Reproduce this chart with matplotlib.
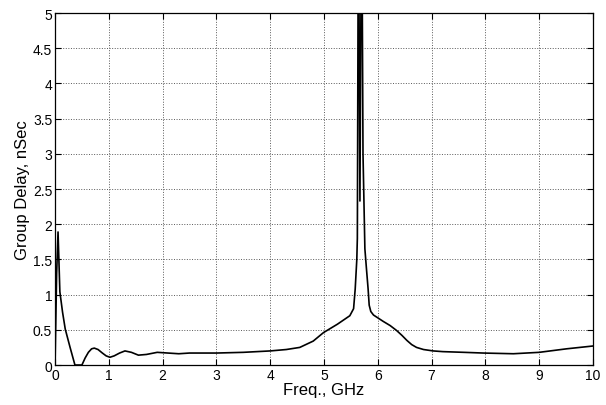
import matplotlib.pyplot as plt

plt.rcParams['font.family'] = ['Liberation Sans', 'DejaVu Sans']

# 読み取った曲線の点 (GHz, nSec)
freq = [0.0, 0.03, 0.056, 0.09, 0.14, 0.19, 0.28, 0.37, 0.5, 0.56, 0.62, 0.68, 0.73, 0.8, 0.88,
        0.95, 1.02, 1.1, 1.2, 1.3, 1.42, 1.55, 1.7, 1.9, 2.1, 2.3, 2.5, 2.7, 3.0, 3.5, 4.0,
        4.3, 4.55, 4.8, 4.99, 5.25, 5.48, 5.55, 5.58, 5.61, 5.62, 5.625, 5.64, 5.668, 5.70,
        5.725, 5.76, 5.79, 5.82, 5.84, 5.87, 5.92, 5.98, 6.1, 6.23, 6.35, 6.45, 6.54, 6.63,
        6.72, 6.85, 7.03, 7.21, 7.6, 7.96, 8.52, 9.0, 9.51, 10.0]
delay = [0.0, 1.3, 1.89, 1.04, 0.75, 0.51, 0.25, 0.0, 0.0, 0.1, 0.18, 0.23, 0.24, 0.22, 0.17,
         0.13, 0.11, 0.13, 0.17, 0.2, 0.18, 0.14, 0.15, 0.18, 0.17, 0.16, 0.17, 0.17, 0.17, 0.18, 0.2,
         0.22, 0.25, 0.34, 0.46, 0.58, 0.7, 0.8, 1.08, 1.5, 1.8, 3.0, 7.0, 2.33, 7.0,
         3.0, 1.65, 1.36, 1.08, 0.85, 0.76, 0.71, 0.68, 0.62, 0.56, 0.49, 0.42, 0.35, 0.29,
         0.25, 0.22, 0.2, 0.19, 0.18, 0.17, 0.16, 0.18, 0.23, 0.27]

x_ticks = [0, 1, 2, 3, 4, 5, 6, 7, 8, 9, 10]
y_ticks = [0, 0.5, 1, 1.5, 2, 2.5, 3, 3.5, 4, 4.5, 5]
y_labels = ['0', '0.5', '1', '1.5', '2', '2.5', '3', '3.5', '4', '4.5', '5']

fig = plt.figure(figsize=(6.06, 4.06), dpi=100)
ax = fig.add_axes([0.0908, 0.0985, 0.8877, 0.867])

ax.plot(freq, delay, color='black', linewidth=1.2)

ax.set_xlim(0, 10)
ax.set_ylim(0, 5)
ax.set_xticks(x_ticks)
ax.set_xticklabels([str(t) for t in x_ticks])
ax.set_yticks(y_ticks)
ax.set_yticklabels(y_labels)

ax.grid(True, color='0.35', linestyle=':', linewidth=0.7)
ax.tick_params(direction='in', top=True, right=True, length=4, labelsize=10, pad=2)
for s in ax.spines.values():
    s.set_linewidth(0.9)

ax.set_xlabel('Freq., GHz', fontsize=12, labelpad=0)
ax.set_ylabel('Group Delay, nSec', fontsize=12, labelpad=2)

fig.savefig('out.png', dpi=100)
